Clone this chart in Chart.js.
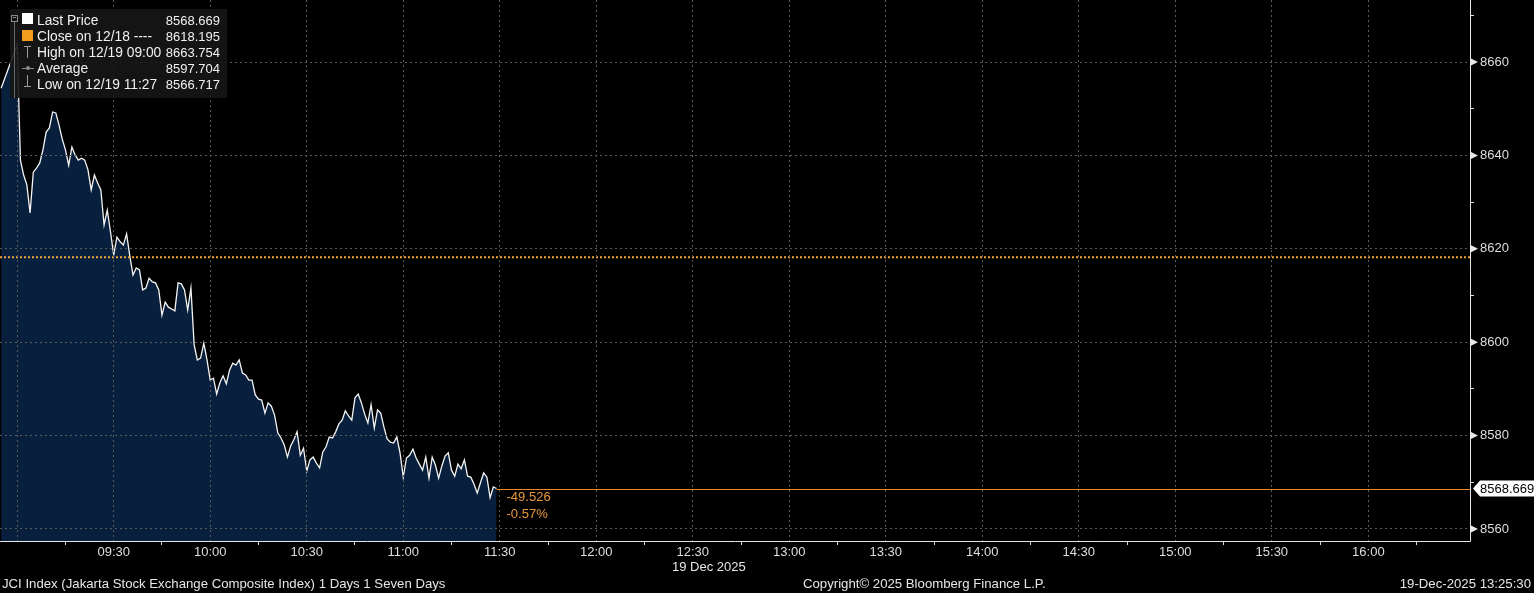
<!DOCTYPE html>
<html><head><meta charset="utf-8">
<script src="https://cdn.jsdelivr.net/npm/chart.js@4.4.1/dist/chart.umd.min.js"></script>
<style>
html,body{margin:0;padding:0;background:#000;overflow:hidden;}
#wrap{position:relative;width:1534px;height:593px;background:#000;}
#c{position:absolute;left:0;top:0;}
.t{position:absolute;font-family:"Liberation Sans",Arial,sans-serif;font-size:13px;color:#e6e6e6;white-space:nowrap;line-height:16px;}
#legend{position:absolute;left:10px;top:9px;width:217px;height:89px;background:rgba(22,22,22,0.9);}
#legend .t{color:#f0f0f0;}
#legend .lab{font-size:13.8px;}
.ic{position:absolute;}
</style>
</head><body>
<div id="wrap">
<canvas id="c" width="1534" height="593"></canvas>
<div id="legend">
  <div class="ic" style="left:1px;top:6px;width:5px;height:5px;border:1px solid #8a8a8a;"></div>
  <div class="ic" style="left:3px;top:8px;width:3px;height:1px;background:#8a8a8a;"></div>
  <div class="ic" style="left:4px;top:13px;width:1px;height:76px;background:#6a6a6a;"></div>
  <div class="ic" style="left:12px;top:4px;width:11px;height:11px;background:#ffffff;"></div>
  <div class="ic" style="left:12px;top:21px;width:11px;height:11px;background:#f39c1e;"></div>
  <div class="ic" style="left:14px;top:37px;width:7px;height:1px;background:#9a9a9a;"></div>
  <div class="ic" style="left:17px;top:37px;width:1px;height:12px;background:#9a9a9a;"></div>
  <div class="ic" style="left:12px;top:59px;width:12px;height:1px;background:#8a8a8a;"></div>
  <div class="ic" style="left:16px;top:57px;width:4px;height:4px;border-radius:2px;background:#8a8a8a;"></div>
  <div class="ic" style="left:17px;top:66px;width:1px;height:11px;background:#9a9a9a;"></div>
  <div class="ic" style="left:14px;top:77px;width:7px;height:1px;background:#9a9a9a;"></div>
  <div id="legRows"></div>
</div>
<div class="t" style="left:672px;top:559px;">19 Dec 2025</div>
<div class="t" style="left:2px;top:576px;font-size:13.2px;">JCI Index (Jakarta Stock Exchange Composite Index) 1 Days 1 Seven Days</div>
<div class="t" style="left:803px;top:576px;font-size:13.2px;">Copyright© 2025 Bloomberg Finance L.P.</div>
<div class="t" style="right:3px;top:576px;font-size:13.2px;">19-Dec-2025 13:25:30</div>
</div>
<script>
// ---- data ----
const times = ["08:55",
"09:00","09:01","09:02","09:03","09:04","09:05","09:06","09:07","09:08","09:09",
"09:10","09:11","09:12","09:13","09:14","09:15","09:16","09:17","09:18","09:19",
"09:20","09:21","09:22","09:23","09:24","09:25","09:26","09:27","09:28","09:29",
"09:30","09:31","09:32","09:33","09:34","09:35","09:36","09:37","09:38","09:39",
"09:40","09:41","09:42","09:43","09:44","09:45","09:46","09:47","09:48","09:49",
"09:50","09:51","09:52","09:53","09:54","09:55","09:56","09:57","09:58","09:59",
"10:00","10:01","10:02","10:03","10:04","10:05","10:06","10:07","10:08","10:09",
"10:10","10:11","10:12","10:13","10:14","10:15","10:16","10:17","10:18","10:19",
"10:20","10:21","10:22","10:23","10:24","10:25","10:26","10:27","10:28","10:29",
"10:30","10:31","10:32","10:33","10:34","10:35","10:36","10:37","10:38","10:39",
"10:40","10:41","10:42","10:43","10:44","10:45","10:46","10:47","10:48","10:49",
"10:50","10:51","10:52","10:53","10:54","10:55","10:56","10:57","10:58","10:59",
"11:00","11:01","11:02","11:03","11:04","11:05","11:06","11:07","11:08","11:09",
"11:10","11:11","11:12","11:13","11:14","11:15","11:16","11:17","11:18","11:19",
"11:20","11:21","11:22","11:23","11:24","11:25","11:26","11:27","11:28","11:29"];
const prices = [8654.4,
8663.754,8639.0,8635.8,8633.7,8627.7,8636.4,8637.3,8638.4,8641.2,8645.0,
8645.9,8649.3,8649.1,8646.5,8643.5,8641.2,8637.9,8641.8,8640.1,8639.0,
8639.4,8639.0,8636.9,8632.6,8635.8,8634.1,8632.6,8625.1,8628.3,8623.6,
8618.7,8622.5,8621.5,8620.8,8623.2,8618.5,8614.4,8615.9,8615.5,8611.2,
8611.6,8613.7,8612.9,8612.7,8611.2,8605.8,8608.6,8607.5,8607.1,8606.7,
8612.7,8612.5,8611.2,8606.9,8611.6,8599.4,8596.2,8596.6,8599.8,8596.2,
8591.9,8592.3,8588.9,8591.3,8592.8,8591.1,8594.0,8595.5,8595.1,8596.2,
8593.4,8593.0,8591.9,8591.9,8588.7,8587.8,8587.6,8584.8,8587.0,8586.3,
8584.4,8580.6,8579.5,8578.0,8575.4,8577.8,8579.1,8580.8,8575.8,8577.3,
8572.4,8574.8,8575.4,8574.1,8573.1,8576.5,8577.6,8579.7,8579.5,8580.8,
8582.5,8583.3,8585.3,8584.2,8583.3,8588.1,8588.9,8587.0,8584.6,8582.7,
8586.6,8581.6,8585.5,8584.8,8581.8,8579.3,8578.6,8578.4,8579.7,8576.3,
8571.1,8575.2,8575.8,8577.1,8575.2,8573.9,8572.6,8575.4,8570.9,8575.4,
8573.7,8570.9,8573.5,8575.6,8576.3,8572.6,8571.3,8573.9,8572.9,8574.8,
8571.3,8571.1,8569.6,8567.7,8569.9,8572.0,8571.1,8566.717,8569.0,8568.669];
const closePrev = 8618.195;
const lastPrice = 8568.669;
const netChange = "-49.526";
const pctChange = "-0.57%";
const legendLabels = ["Last Price","Close on 12/18 ----","High on 12/19 09:00","Average","Low on 12/19 11:27"];
const legendValues = ["8568.669","8618.195","8663.754","8597.704","8566.717"];
const xGridTimes = ["09:00","09:30","10:00","10:30","11:00","11:30","12:00","12:30","13:00","13:30","14:00","14:30","15:00","15:30","16:00"];
const xLabelTimes = ["09:30","10:00","10:30","11:00","11:30","12:00","12:30","13:00","13:30","14:00","14:30","15:00","15:30","16:00"];
const xMinorTimes = ["09:15","09:45","10:15","10:45","11:15","11:45","12:15","12:45","13:15","13:45","14:15","14:45","15:15","15:45","16:15"];
const xRange = ["08:54:39","16:31:36"];
const yMajorTicks = [8560,8580,8600,8620,8640,8660];
const yMinorTicks = [8570,8590,8610,8630,8650,8670];
const yRange = [8557.43,8673.28];

// ---- helpers ----
const toMin = s => { const p = s.split(':').map(Number); return p[0]*60 + p[1] + (p[2]||0)/60; };
const fmt = m => { const h = Math.floor(m/60), mm = Math.round(m%60); return String(h).padStart(2,'0')+':'+String(mm).padStart(2,'0'); };
const gridSet = new Set(xGridTimes.map(toMin));
const labelSet = new Set(xLabelTimes.map(toMin));
const yMajSet = new Set(yMajorTicks);

// legend rows
const rows = document.getElementById('legRows');
legendLabels.forEach((l,i)=>{
  const a = document.createElement('div'); a.className='t lab'; a.style.left='27px'; a.style.top=(3.5+16*i)+'px'; a.textContent=l; rows.appendChild(a);
  const b = document.createElement('div'); b.className='t'; b.style.right='7px'; b.style.top=(3.5+16*i)+'px'; b.textContent=legendValues[i]; rows.appendChild(b);
});

const FONT = '"Liberation Sans", Arial, sans-serif';
Chart.defaults.font.family = FONT;
Chart.defaults.font.size = 13;
Chart.defaults.color = '#dedede';

const xMin = toMin(xRange[0]), xMax = toMin(xRange[1]);
const series = times.map((t,i)=>({x: toMin(t), y: prices[i]}));
const lastX = toMin(times[times.length-1]);

const overlay = {
  id:'overlay',
  afterDraw(chart){
    const {ctx, chartArea:a, scales:{x,y}} = chart;
    const lx = x.getPixelForValue(lastX), ly = y.getPixelForValue(lastPrice);
    ctx.save();
    ctx.setLineDash([]);
    // axis lines
    ctx.strokeStyle = '#e6e6e6'; ctx.lineWidth = 1;
    ctx.beginPath();
    ctx.moveTo(0, Math.round(a.bottom)+0.5); ctx.lineTo(Math.round(a.right)+0.5, Math.round(a.bottom)+0.5);
    ctx.lineTo(Math.round(a.right)+0.5, 0);
    ctx.stroke();
    // last price line (filled rect for solid orange)
    ctx.fillStyle = '#e8862a';
    ctx.fillRect(lx, Math.round(ly), a.right - lx, 1);
    // axis triangles
    ctx.fillStyle = '#e8e8e8';
    yMajorTicks.forEach(v=>{
      const py = y.getPixelForValue(v);
      ctx.beginPath(); ctx.moveTo(a.right+1, py-3.5); ctx.lineTo(a.right+8, py); ctx.lineTo(a.right+1, py+3.5); ctx.closePath(); ctx.fill();
    });
    // last price tag
    ctx.fillStyle = '#ffffff';
    ctx.beginPath();
    ctx.moveTo(a.right+3, ly); ctx.lineTo(a.right+10, ly-8); ctx.lineTo(chart.width, ly-8);
    ctx.lineTo(chart.width, ly+8); ctx.lineTo(a.right+10, ly+8); ctx.closePath(); ctx.fill();
    ctx.fillStyle = '#000'; ctx.font = '13px '+FONT; ctx.textBaseline = 'middle'; ctx.textAlign = 'left';
    ctx.fillText(lastPrice.toFixed(3), a.right+10, ly+1);
    // change text
    ctx.fillStyle = '#e8963c';
    ctx.fillText(netChange, lx+10, ly+9);
    ctx.fillText(pctChange, lx+10, ly+26);
    ctx.restore();
  }
};

new Chart(document.getElementById('c'), {
  type:'line',
  data:{datasets:[
    {label:'Close', data:[{x:xMin,y:closePrev},{x:xMax,y:closePrev}], borderColor:'#f2a23a', borderWidth:2, borderDash:[2,2], pointRadius:0, fill:false},
    {label:'Last Price', data:series, borderColor:'#f4f4f4', borderWidth:1.3, pointRadius:0, tension:0, fill:'start', backgroundColor:'#08203d'}
  ]},
  options:{
    responsive:false, animation:false, devicePixelRatio:1,
    layout:{padding:0},
    plugins:{legend:{display:false}, tooltip:{enabled:false}},
    scales:{
      x:{type:'linear', min:xMin, max:xMax,
        afterBuildTicks: s => { s.ticks = [...xGridTimes, ...xMinorTimes].map(toMin).sort((a,b)=>a-b).map(v=>({value:v})); },
        afterFit: s => { s.height = 52; s.paddingLeft = 0; s.paddingRight = 0; s.paddingTop = 0; s.paddingBottom = 0; },
        ticks:{autoSkip:false, maxRotation:0, padding:0, color:'#dedede',
          callback: v => labelSet.has(v) ? fmt(v) : ''},
        grid:{z:1, drawOnChartArea:true, tickLength:4, lineWidth:1,
          color: c => gridSet.has(c.tick && c.tick.value) ? '#5a5a5a' : 'rgba(0,0,0,0)',
          tickColor: c => gridSet.has(c.tick && c.tick.value) ? 'rgba(0,0,0,0)' : '#dcdcdc'},
        border:{display:false, dash:[2,3]}
      },
      y:{type:'linear', position:'right', min:yRange[0], max:yRange[1],
        afterBuildTicks: s => { s.ticks = [...yMajorTicks, ...yMinorTicks].sort((a,b)=>a-b).map(v=>({value:v})); },
        afterFit: s => { s.width = 64; s.paddingLeft = 0; s.paddingRight = 0; s.paddingTop = 0; s.paddingBottom = 0; },
        ticks:{autoSkip:false, padding:6, color:'#dedede',
          callback: v => yMajSet.has(v) ? String(v) : ''},
        grid:{z:1, drawOnChartArea:true, tickLength:4, lineWidth:1,
          color: c => yMajSet.has(c.tick && c.tick.value) ? '#5a5a5a' : 'rgba(0,0,0,0)',
          tickColor: c => yMajSet.has(c.tick && c.tick.value) ? 'rgba(0,0,0,0)' : '#dcdcdc'},
        border:{display:false, dash:[2,3]}
      }
    }
  },
  plugins:[overlay]
});
</script>
</body></html>
